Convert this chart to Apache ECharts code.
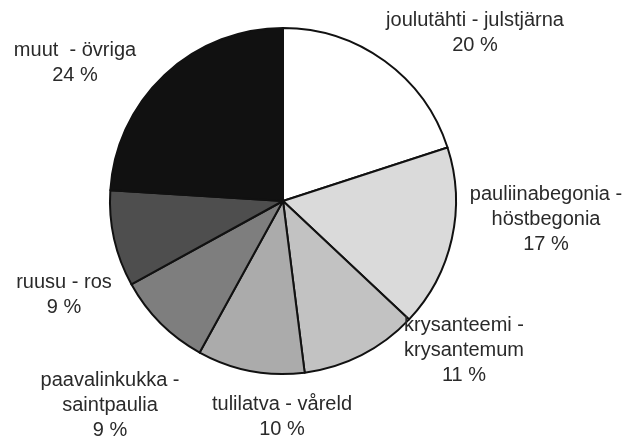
<!DOCTYPE html>
<html>
<head>
<meta charset="utf-8">
<script src="https://cdn.jsdelivr.net/npm/echarts@6/dist/echarts.min.js"></script>
<style>
  html, body { margin: 0; padding: 0; background: #fff; }
  #chart { width: 640px; height: 439px; }
</style>
</head>
<body>
<div id="chart"></div>
<script>
// kategoriat ja osuudet (%)
var names = [
  'joulutähti - julstjärna',
  'pauliinabegonia -\nhöstbegonia',
  'krysanteemi -\nkrysantemum',
  'tulilatva - våreld',
  'paavalinkukka -\nsaintpaulia',
  'ruusu - ros',
  'muut  - övriga'
];
var values = [20, 17, 11, 10, 9, 9, 24];

// sävyt
var colors = ['#ffffff', '#dadada', '#c2c2c2', '#ababab', '#7e7e7e', '#4e4e4e', '#111111'];

// tekstien keskipisteet
var labelPos = [
  [475, 33], [546, 219], [464, 350], [282, 417], [110, 405], [64, 295], [75, 63]
];

var chart = echarts.init(document.getElementById('chart'));

var seriesData = names.map(function (n, i) {
  return { name: n, value: values[i], itemStyle: { color: colors[i] } };
});

var option = {
  animation: false,
  series: [{
    type: 'pie',
    center: [283, 201],
    radius: 173,
    startAngle: 90,
    clockwise: true,
    data: seriesData,
    itemStyle: {
      borderColor: '#111',
      borderWidth: 2
    },
    label: {
      show: true,
      position: 'outside',
      formatter: '{b}\n{c} %',
      fontFamily: 'Liberation Sans, Arial, sans-serif',
      fontSize: 20,
      lineHeight: 25,
      color: '#2a2a2a',
      align: 'center',
      overflow: 'none'
    },
    labelLine: { show: false },
    labelLayout: function (params) {
      var p = labelPos[params.dataIndex];
      return { x: p[0], y: p[1], align: 'center', verticalAlign: 'middle' };
    },
    emphasis: { disabled: true }
  }]
};
chart.setOption(option);
</script>
</body>
</html>
